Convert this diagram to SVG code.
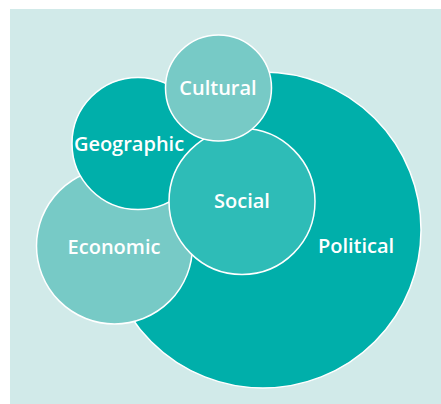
<svg xmlns="http://www.w3.org/2000/svg" width="441" height="404" viewBox="0 0 441 404">
<style>
.c{stroke:#ffffff;stroke-width:1.5}
.t{font-family:"Open Sans","Liberation Sans",sans-serif;font-weight:600;font-size:20px;fill:#ffffff;text-anchor:middle}
</style>
<rect x="0" y="0" width="441" height="404" fill="#ffffff"/>
<rect x="10" y="9" width="431" height="395" fill="#d1eae9"/>
<g id="political"><circle class="c" cx="263" cy="230" r="158" fill="#00afaa"/><text class="t" x="356" y="253">Political</text></g>
<g id="economic"><circle class="c" cx="114.5" cy="246" r="78" fill="#77cac6"/><text class="t" x="114" y="254">Economic</text></g>
<g id="geographic"><circle class="c" cx="138" cy="143.5" r="66" fill="#00afaa"/></g>
<g id="social"><circle class="c" cx="242" cy="201.5" r="73" fill="#2ebcb7"/><text class="t" x="242" y="208">Social</text></g>
<g id="cultural"><circle class="c" cx="218.5" cy="88" r="53" fill="#77cac6"/><text class="t" x="218" y="95">Cultural</text></g>
<text class="t" x="129" y="151" id="geographic-label">Geographic</text>
</svg>
